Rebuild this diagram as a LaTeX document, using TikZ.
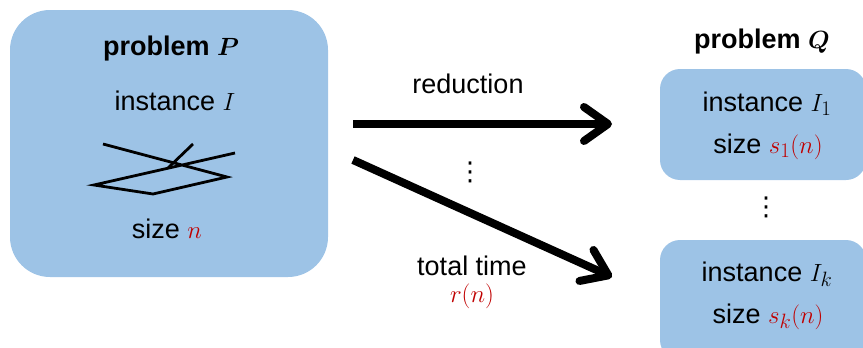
\documentclass[tikz,border=0pt]{standalone}
\usepackage{amsmath}
\usepackage{bm}
\usepackage{fontspec}
\setmainfont{Liberation Sans}
\newfontfamily\dejavu{DejaVu Sans}
\usetikzlibrary{arrows.meta}
\definecolor{boxblue}{RGB}{157,195,230}
\definecolor{mred}{RGB}{192,0,0}
\newcommand{\mth}[1]{{\fontsize{30}{30}\selectfont$#1$}}
\begin{document}
\begin{tikzpicture}[x=1pt,y=-1pt,
  lbl/.style={font=\fontsize{27}{30}\selectfont, anchor=base, inner sep=0pt},
  bold/.style={lbl, font=\fontsize{27}{30}\selectfont\bfseries},
  dotstack/.style={font=\fontsize{26}{30}\selectfont\dejavu, inner sep=0pt, anchor=center},
  bigbox/.style={fill=boxblue, rounded corners=40pt, draw=none},
  smallbox/.style={fill=boxblue, rounded corners=20pt, draw=none},
  bigarrow/.style={line width=8pt, -{Straight Barb[length=24pt,width=34pt,line cap=round,line join=round]}},
  sketch/.style={line width=2.8pt, line join=miter}
  ]
\useasboundingbox (0,0) rectangle (863,348);
\clip (0,0) rectangle (863,348);
% boxes
\node[bigbox, minimum width=318pt, minimum height=267pt] (P) at (169,143.5) {};
\node[smallbox, minimum width=206pt, minimum height=111pt] (Q1) at (763,124.5) {};
\node[smallbox, minimum width=206pt, minimum height=120pt] (Qk) at (763,300) {};
% left texts
\node[bold] (tP) at (171,55) {problem \mth{\bm{P}}};
\node[lbl] (iP) at (175,110) {instance \mth{I}};
\node[lbl] (sP) at (167,238) {size \textcolor{mred}{\mth{n}}};
% sketch of instance
\draw[sketch] (103,144) -- (227,177) -- (153,194) -- (94,185) -- (235,153);
\draw[sketch] (168,168) -- (193,144);
% right texts
\node[bold] (tQ) at (762,48) {problem \mth{\bm{Q}}};
\node[lbl] (i1) at (767,111) {instance \mth{I_1}};
\node[lbl] (s1) at (768,153) {size \textcolor{mred}{\mth{s_1(n)}}};
\node[dotstack] (vd2) at (766,207) {⋮};
\node[lbl] (ik) at (767,281) {instance \mth{I_k}};
\node[lbl] (sk) at (768,323) {size \textcolor{mred}{\mth{s_k(n)}}};
% arrows
\coordinate (a1s) at (353,124);
\coordinate (a1e) at (612,124);
\coordinate (a2s) at (353,160);
\coordinate (a2e) at (612,277);
\draw[bigarrow] (a1s) -- (a1e);
\draw[bigarrow] (a2s) -- (a2e);
\node[lbl] (red) at (468,93) {reduction};
\node[dotstack] (vd1) at (470,172) {⋮};
\node[lbl] (tt) at (472,275) {total time};
\node[lbl] (rn) at (472,302) {\textcolor{mred}{\mth{r(n)}}};
\end{tikzpicture}
\end{document}
